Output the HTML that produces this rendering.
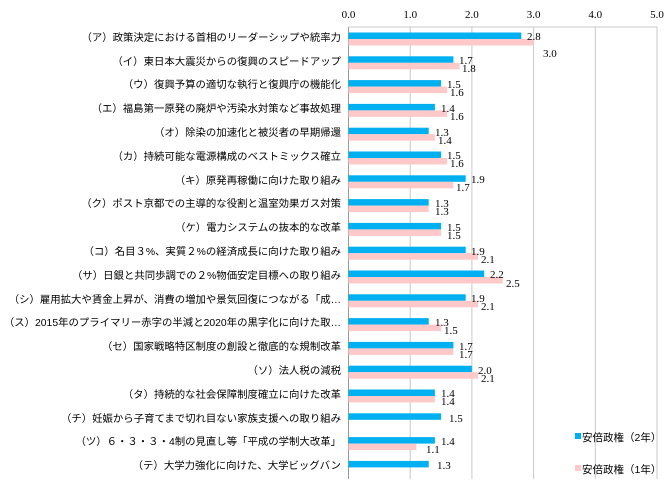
<!DOCTYPE html>
<html><head><meta charset="utf-8"><style>
html,body{margin:0;padding:0;background:#fff;}
svg{display:block;}
.l{font-family:"Liberation Sans","Noto Sans CJK JP",sans-serif;font-size:10.4px;fill:#000;text-anchor:end;}
.v{font-family:"Liberation Serif",serif;font-size:11px;fill:#000;}
.t{font-family:"Liberation Serif",serif;font-size:11px;fill:#000;text-anchor:middle;}
.g{font-family:"Liberation Sans","Noto Sans CJK JP",sans-serif;font-size:10.5px;fill:#000;}
</style></head><body>
<svg width="670" height="487" viewBox="0 0 670 487">
<g stroke="#c8c8c8" stroke-width="1">
<line x1="348.5" y1="27" x2="348.5" y2="479" stroke="#999"/>
<line x1="410.2" y1="27" x2="410.2" y2="479"/>
<line x1="471.9" y1="27" x2="471.9" y2="479"/>
<line x1="533.6" y1="27" x2="533.6" y2="479"/>
<line x1="595.3" y1="27" x2="595.3" y2="479"/>
<line x1="657" y1="27" x2="657" y2="479"/>
<line x1="348.5" y1="27" x2="657" y2="27"/>
</g>
<g>
<text class="t" x="348.5" y="18">0.0</text>
<text class="t" x="410.2" y="18">1.0</text>
<text class="t" x="471.9" y="18">2.0</text>
<text class="t" x="533.6" y="18">3.0</text>
<text class="t" x="595.3" y="18">4.0</text>
<text class="t" x="657" y="18">5.0</text>
</g>
<g fill="#00b0f0">
<rect x="348.5" y="32.5" width="172.8" height="6.5"/>
<rect x="348.5" y="56.3" width="104.9" height="6.5"/>
<rect x="348.5" y="80.1" width="92.6" height="6.5"/>
<rect x="348.5" y="103.9" width="86.4" height="6.5"/>
<rect x="348.5" y="127.7" width="80.2" height="6.5"/>
<rect x="348.5" y="151.5" width="92.6" height="6.5"/>
<rect x="348.5" y="175.3" width="117.2" height="6.5"/>
<rect x="348.5" y="199.1" width="80.2" height="6.5"/>
<rect x="348.5" y="222.9" width="92.6" height="6.5"/>
<rect x="348.5" y="246.7" width="117.2" height="6.5"/>
<rect x="348.5" y="270.5" width="135.7" height="6.5"/>
<rect x="348.5" y="294.3" width="117.2" height="6.5"/>
<rect x="348.5" y="318.1" width="80.2" height="6.5"/>
<rect x="348.5" y="341.9" width="104.9" height="6.5"/>
<rect x="348.5" y="365.7" width="123.4" height="6.5"/>
<rect x="348.5" y="389.5" width="86.4" height="6.5"/>
<rect x="348.5" y="413.3" width="92.6" height="6.5"/>
<rect x="348.5" y="437.1" width="86.4" height="6.5"/>
<rect x="348.5" y="460.9" width="80.2" height="6.5"/>
</g>
<g fill="#ffc9c9">
<rect x="348.5" y="39" width="185.1" height="6.5"/>
<rect x="348.5" y="62.8" width="111.1" height="6.5"/>
<rect x="348.5" y="86.6" width="98.7" height="6.5"/>
<rect x="348.5" y="110.4" width="98.7" height="6.5"/>
<rect x="348.5" y="134.2" width="86.4" height="6.5"/>
<rect x="348.5" y="158" width="98.7" height="6.5"/>
<rect x="348.5" y="181.8" width="104.9" height="6.5"/>
<rect x="348.5" y="205.6" width="80.2" height="6.5"/>
<rect x="348.5" y="229.4" width="92.6" height="6.5"/>
<rect x="348.5" y="253.2" width="129.6" height="6.5"/>
<rect x="348.5" y="277" width="154.3" height="6.5"/>
<rect x="348.5" y="300.8" width="129.6" height="6.5"/>
<rect x="348.5" y="324.6" width="92.6" height="6.5"/>
<rect x="348.5" y="348.4" width="104.9" height="6.5"/>
<rect x="348.5" y="372.2" width="129.6" height="6.5"/>
<rect x="348.5" y="396" width="86.4" height="6.5"/>
<rect x="348.5" y="443.6" width="67.9" height="6.5"/>
</g>
<g class="v">
<text x="527" y="40">2.8</text><text x="543" y="57">3.0</text>
<text x="459" y="64">1.7</text><text x="462" y="72">1.8</text>
<text x="447" y="88">1.5</text><text x="450" y="96">1.6</text>
<text x="441" y="112">1.4</text><text x="450" y="120">1.6</text>
<text x="435" y="136">1.3</text><text x="438" y="144">1.4</text>
<text x="447" y="159">1.5</text><text x="450" y="167">1.6</text>
<text x="471" y="183">1.9</text><text x="456" y="191">1.7</text>
<text x="435" y="207">1.3</text><text x="435" y="215">1.3</text>
<text x="447" y="231">1.5</text><text x="447" y="239">1.5</text>
<text x="471" y="255">1.9</text><text x="481" y="263">2.1</text>
<text x="490" y="278">2.2</text><text x="506" y="287">2.5</text>
<text x="471" y="302">1.9</text><text x="481" y="310">2.1</text>
<text x="435" y="326">1.3</text><text x="444" y="334">1.5</text>
<text x="459" y="350">1.7</text><text x="459" y="358">1.7</text>
<text x="478" y="374">2.0</text><text x="481" y="382">2.1</text>
<text x="441" y="397">1.4</text><text x="441" y="405">1.4</text>
<text x="449" y="422">1.5</text>
<text x="441" y="445">1.4</text><text x="426" y="453">1.1</text>
<text x="437" y="469">1.3</text>
</g>
<g class="l">
<text x="341" y="41">（ア）政策決定における首相のリーダーシップや統率力</text>
<text x="341" y="65">（イ）東日本大震災からの復興のスピードアップ</text>
<text x="341" y="88">（ウ）復興予算の適切な執行と復興庁の機能化</text>
<text x="341" y="112">（エ）福島第一原発の廃炉や汚染水対策など事故処理</text>
<text x="341" y="136">（オ）除染の加速化と被災者の早期帰還</text>
<text x="341" y="160">（カ）持続可能な電源構成のベストミックス確立</text>
<text x="341" y="184">（キ）原発再稼働に向けた取り組み</text>
<text x="341" y="207">（ク）ポスト京都での主導的な役割と温室効果ガス対策</text>
<text x="341" y="231">（ケ）電力システムの抜本的な改革</text>
<text x="341" y="255">（コ）名目３%、実質２%の経済成長に向けた取り組み</text>
<text x="341" y="279">（サ）日銀と共同歩調での２%物価安定目標への取り組み</text>
<text x="341" y="303">（シ）雇用拡大や賃金上昇が、消費の増加や景気回復につながる「成…</text>
<text x="341" y="326">（ス）2015年のプライマリー赤字の半減と2020年の黒字化に向けた取…</text>
<text x="341" y="350">（セ）国家戦略特区制度の創設と徹底的な規制改革</text>
<text x="341" y="374">（ソ）法人税の減税</text>
<text x="341" y="398">（タ）持続的な社会保障制度確立に向けた改革</text>
<text x="341" y="422">（チ）妊娠から子育てまで切れ目ない家族支援への取り組み</text>
<text x="341" y="445">（ツ）６・３・３・4制の見直し等「平成の学制大改革」</text>
<text x="341" y="469">（テ）大学力強化に向けた、大学ビッグバン</text>
</g>
<rect x="575" y="433" width="6" height="6" fill="#00b0f0"/>
<text class="g" x="582" y="441">安倍政権（2年）</text>
<rect x="575" y="465" width="6" height="6" fill="#ffc9c9"/>
<text class="g" x="582" y="473">安倍政権（1年）</text>
</svg>
</body></html>
